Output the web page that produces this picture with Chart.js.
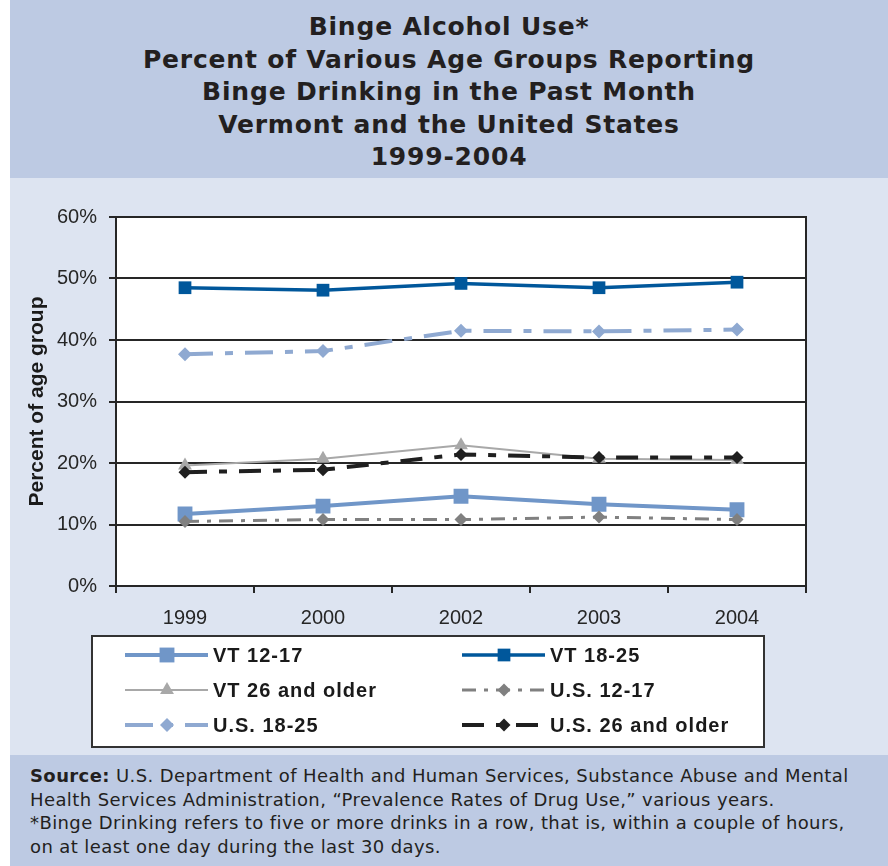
<!DOCTYPE html>
<html>
<head>
<meta charset="utf-8">
<script src="https://cdn.jsdelivr.net/npm/chart.js@4/dist/chart.umd.min.js"></script>
<style>
  html, body { margin: 0; padding: 0; background: #fff; }
  .page { position: relative; width: 888px; height: 866px; overflow: hidden; }
  .head {
    position: absolute; left: 10px; top: 0; width: 878px; height: 178px;
    background: #bdcae3; color: #231f20;
    font: bold 25px "DejaVu Sans", Verdana, sans-serif; letter-spacing: 0.8px;
    text-align: center; line-height: 32.5px; padding-top: 11px; box-sizing: border-box;
  }
  .body { position: absolute; left: 10px; top: 178px; width: 878px; height: 577px; background: #dde4f1; }
  #chart { position: absolute; left: 0; top: 178px; }
  .foot {
    position: absolute; left: 10px; top: 755px; width: 878px; height: 111px;
    background: #bdcae3; color: #231f20;
    font: 18px "DejaVu Sans", Verdana, sans-serif; letter-spacing: 0.4px;
    line-height: 23.5px; padding: 9px 0 0 20px; box-sizing: border-box; white-space: nowrap;
  }
</style>
</head>
<body>
<div class="page">
  <div class="head">
    Binge Alcohol Use*<br>
    Percent of Various Age Groups Reporting<br>
    Binge Drinking in the Past Month<br>
    Vermont and the United States<br>
    1999-2004
  </div>
  <div class="body"></div>
  <canvas id="chart" width="888" height="577"></canvas>
  <div class="foot">
    <b>Source:</b> U.S. Department of Health and Human Services, Substance Abuse and Mental<br>
    Health Services Administration, “Prevalence Rates of Drug Use,” various years.<br>
    *Binge Drinking refers to five or more drinks in a row, that is, within a couple of hours,<br>
    on at least one day during the last 30 days.
  </div>
</div>
<script>
// survey years and percent reporting binge drinking
const years = ["1999", "2000", "2002", "2003", "2004"];
const vt1217 = [11.7, 13.0, 14.6, 13.3, 12.4];
const vt1825 = [48.5, 48.1, 49.2, 48.5, 49.4];
const vt26 = [19.6, 20.7, 22.9, 20.7, 20.5];
const us1217 = [10.5, 10.8, 10.8, 11.2, 10.8];
const us1825 = [37.7, 38.2, 41.5, 41.4, 41.7];
const us26 = [18.5, 18.9, 21.4, 20.9, 20.9];
const yTicks = [0, 10, 20, 30, 40, 50, 60];

const axisColor = "#262626";

function series(label, data, color, width, dash, style, radius, order) {
  return {
    label: label, data: data,
    borderColor: color, backgroundColor: color,
    borderWidth: width, borderDash: dash,
    pointStyle: style, pointRadius: radius, pointHoverRadius: radius,
    pointBorderWidth: 0, tension: 0, fill: false, order: order
  };
}

// white plot area with a dark frame
const plotFrame = {
  id: "plotFrame",
  beforeDraw(chart) {
    const a = chart.chartArea, ctx = chart.ctx;
    ctx.save();
    ctx.fillStyle = "#fff";
    ctx.fillRect(a.left, a.top, a.right - a.left, a.bottom - a.top);
    ctx.restore();
  },
  beforeDatasetsDraw(chart) {
    const a = chart.chartArea, ctx = chart.ctx;
    ctx.save();
    ctx.strokeStyle = axisColor;
    ctx.lineWidth = 2;
    ctx.strokeRect(a.left, a.top, a.right - a.left, a.bottom - a.top);
    ctx.restore();
  }
};

// two column legend in a boxed panel under the axis
const boxLegend = {
  id: "boxLegend",
  afterDraw(chart) {
    const ctx = chart.ctx;
    ctx.save();
    ctx.fillStyle = "#fff";
    ctx.fillRect(92, 458, 672, 111);
    ctx.strokeStyle = "#333";
    ctx.lineWidth = 2;
    ctx.strokeRect(92, 458, 672, 111);
    const cols = [125, 462];
    const rows = [477, 512, 547];
    chart.data.datasets.forEach((ds, i) => {
      const x0 = cols[i % 2], y = rows[Math.floor(i / 2)];
      ctx.strokeStyle = ds.borderColor;
      ctx.lineWidth = ds.borderWidth;
      ctx.setLineDash(ds.borderDash || []);
      ctx.beginPath();
      ctx.moveTo(x0, y);
      ctx.lineTo(x0 + 83, y);
      ctx.stroke();
      ctx.setLineDash([]);
      ctx.fillStyle = ds.backgroundColor;
      Chart.helpers.drawPoint(ctx, {
        pointStyle: ds.pointStyle, radius: ds.pointRadius, rotation: 0, borderWidth: 0
      }, x0 + 42, y);
      ctx.fillStyle = "#1a1a1a";
      ctx.font = 'bold 20px "Liberation Sans", Arial, sans-serif';
      ctx.letterSpacing = "1px";
      ctx.textBaseline = "middle";
      ctx.fillText(ds.label, x0 + 88, y + 1);
    });
    ctx.restore();
  }
};

new Chart(document.getElementById("chart"), {
  type: "line",
  data: {
    labels: years,
    datasets: [
      series("VT 12-17", vt1217, "#7096c8", 4, [], "rect", 10.5, 2),
      series("VT 18-25", vt1825, "#00579b", 3.5, [], "rect", 9, 2),
      series("VT 26 and older", vt26, "#a8a8a8", 2, [], "triangle", 8, 2),
      series("U.S. 12-17", us1217, "#808080", 3, [14, 8, 4, 8], "rectRot", 6.5, 1),
      series("U.S. 18-25", us1825, "#8fa9d1", 4, [28, 12, 8, 12], "rectRot", 7, 1),
      series("U.S. 26 and older", us26, "#1f1f1f", 4, [22, 12, 8, 12], "rectRot", 6.5, 1)
    ]
  },
  options: {
    responsive: false,
    animation: false,
    devicePixelRatio: 1,
    layout: { padding: { top: 39, right: 82, left: 0, bottom: 0 } },
    plugins: { legend: { display: false }, tooltip: { enabled: false } },
    scales: {
      x: {
        offset: true,
        grid: { offset: true, drawOnChartArea: false, drawTicks: true, tickLength: 7, color: axisColor, lineWidth: 2 },
        border: { color: axisColor, width: 2 },
        ticks: { color: "#262626", font: { family: '"Liberation Sans", Arial, sans-serif', size: 20 }, padding: 13 },
        afterFit(scale) { scale.height = 169; }
      },
      y: {
        min: 0, max: 60,
        afterBuildTicks(scale) { scale.ticks = yTicks.map(v => ({ value: v })); },
        grid: { color: axisColor, lineWidth: 2, tickLength: 7 },
        border: { color: axisColor, width: 2 },
        ticks: {
          color: "#262626", padding: 12,
          font: { family: '"Liberation Sans", Arial, sans-serif', size: 20 },
          callback: v => v + "%"
        },
        title: {
          display: true, text: "Percent of age group", color: "#1a1a1a",
          font: { family: '"Liberation Sans", Arial, sans-serif', size: 21, weight: "bold" },
          padding: { top: 25, bottom: 0 }
        },
        afterFit(scale) { scale.width = 116; }
      }
    }
  },
  plugins: [plotFrame, boxLegend]
});
</script>
</body>
</html>
